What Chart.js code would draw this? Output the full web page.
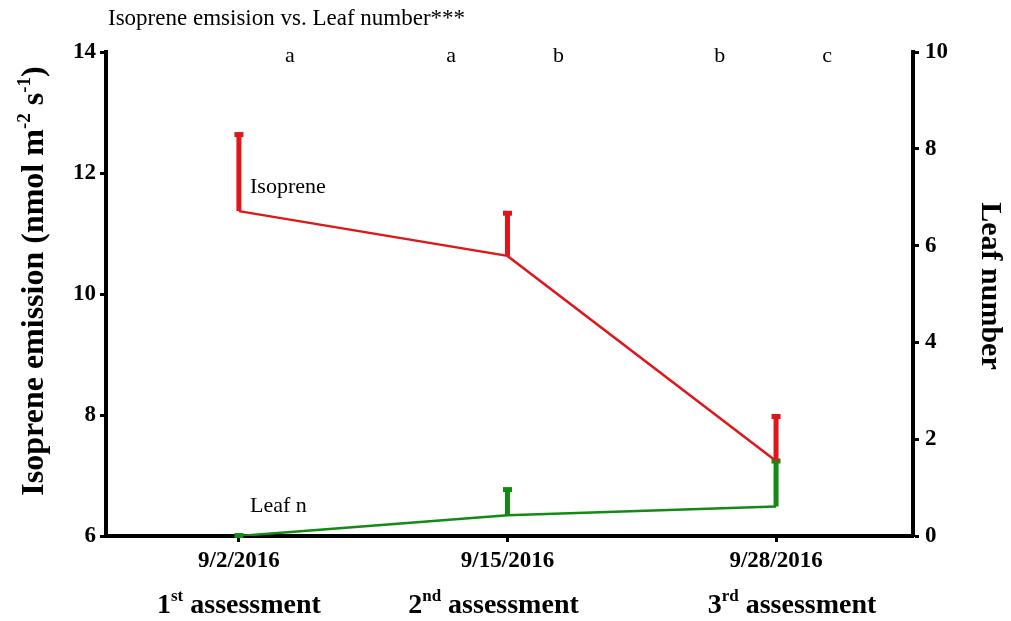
<!DOCTYPE html>
<html>
<head>
<meta charset="utf-8">
<script src="https://cdn.jsdelivr.net/npm/chart.js@4"></script>
<style>
  html, body { margin: 0; padding: 0; background: #fff; }
  #wrap { width: 1011px; height: 621px; position: relative; }
</style>
</head>
<body>
<div id="wrap"><canvas id="c"></canvas></div>
<script>
// Sampling dates and assessment names
const dates = ['9/2/2016', '9/15/2016', '9/28/2016'];
const assessments = [['1', 'st'], ['2', 'nd'], ['3', 'rd']];

// Isoprene emission (nmol m-2 s-1): mean and upper standard error
const isopreneMean = [11.37, 10.63, 7.24];
const isopreneSE = [1.29, 0.73, 0.76];

// Leaf number: mean and upper standard error
const leafMean = [0.0, 0.43, 0.61];
const leafSE = [0.04, 0.56, 0.97];

// Axis ticks
const leftTicks = [6, 8, 10, 12, 14];
const rightTicks = [0, 2, 4, 6, 8, 10];

// Significance letters shown along the top
const sigLetters = ['a', 'a', 'b', 'b', 'c'];

const RED = '#e0161b';
const GREEN = '#148a14';
const SERIF = '"Liberation Serif", "Times New Roman", serif';

const tickGrid = {
  display: true, drawOnChartArea: false, drawTicks: true,
  tickLength: 6, tickWidth: 3, color: '#000'
};
const axisBorder = { display: true, width: 4, color: '#000' };
const tickFont = { family: SERIF, size: 23, weight: 'bold' };

// Draws text pieces in sequence; superscript pieces are smaller and raised
function richWidth(ctx, parts) {
  let w = 0;
  for (const p of parts) { ctx.font = p.font; w += ctx.measureText(p.t).width; }
  return w;
}
function drawRich(ctx, parts, x, y) {
  let cx = x;
  for (const p of parts) {
    ctx.font = p.font;
    ctx.fillText(p.t, cx, y - (p.rise || 0));
    cx += ctx.measureText(p.t).width;
  }
}

function errorBar(ctx, x, yMean, yTop, color) {
  ctx.fillStyle = color;
  ctx.fillRect(x - 2.5, yTop, 5, yMean - yTop);
  ctx.fillRect(x - 4.5, yTop - 1, 9, 5);
}

const annotations = {
  id: 'annotations',
  afterDatasetsDraw(chart) {
    const ctx = chart.ctx;
    const xs = chart.scales.x, yl = chart.scales.yL, yr = chart.scales.yR;
    ctx.save();

    // error bars: leaf first so isoprene sits on top
    leafMean.forEach((m, i) => {
      errorBar(ctx, xs.getPixelForValue(i), yr.getPixelForValue(m), yr.getPixelForValue(m + leafSE[i]), GREEN);
    });
    isopreneMean.forEach((m, i) => {
      errorBar(ctx, xs.getPixelForValue(i), yl.getPixelForValue(m), yl.getPixelForValue(m + isopreneSE[i]), RED);
    });

    ctx.fillStyle = '#000';
    ctx.textBaseline = 'alphabetic';

    // title
    ctx.font = '23px ' + SERIF;
    ctx.textAlign = 'left';
    ctx.fillText('Isoprene emsision vs. Leaf number***', 108, 25);

    // significance letters between sampling dates
    ctx.font = '22px ' + SERIF;
    ctx.textAlign = 'center';
    sigLetters.forEach((s, k) => {
      const pos = k % 2 === 0 ? Math.floor(k / 2) + 0.19 : Math.ceil(k / 2) - 0.21;
      ctx.fillText(s, xs.getPixelForValue(pos), 62);
    });

    // series labels
    ctx.textAlign = 'left';
    ctx.fillText('Isoprene', 250, 193);
    ctx.fillText('Leaf n', 250, 512);

    // left axis title with superscripts
    const B = 'bold 32px ' + SERIF, BS = 'bold 19px ' + SERIF;
    const leftTitle = [
      { t: 'Isoprene emission (nmol m', font: B },
      { t: '-2', font: BS, rise: 13 },
      { t: ' s', font: B },
      { t: '-1', font: BS, rise: 13 },
      { t: ')', font: B }
    ];
    ctx.save();
    ctx.translate(43, 281);
    ctx.rotate(-Math.PI / 2);
    ctx.textAlign = 'left';
    drawRich(ctx, leftTitle, -richWidth(ctx, leftTitle) / 2, 0);
    ctx.restore();

    // right axis title
    ctx.save();
    ctx.translate(982, 286);
    ctx.rotate(Math.PI / 2);
    ctx.font = 'bold 30px ' + SERIF;
    ctx.textAlign = 'center';
    ctx.fillText('Leaf number', 0, 0);
    ctx.restore();

    // assessment labels under the dates
    const shift = [0, -14, 16];
    ctx.textAlign = 'left';
    assessments.forEach((a, i) => {
      const parts = [
        { t: a[0], font: 'bold 28px ' + SERIF },
        { t: a[1], font: 'bold 17px ' + SERIF, rise: 12 },
        { t: ' assessment', font: 'bold 28px ' + SERIF }
      ];
      const w = richWidth(ctx, parts);
      drawRich(ctx, parts, xs.getPixelForValue(i) + shift[i] - w / 2, 613);
    });

    ctx.restore();
  }
};

new Chart(document.getElementById('c'), {
  type: 'line',
  data: {
    datasets: [
      {
        label: 'Isoprene',
        data: isopreneMean.map((v, i) => ({ x: i, y: v })),
        borderColor: RED, borderWidth: 2.5, pointRadius: 0,
        yAxisID: 'yL', tension: 0
      },
      {
        label: 'Leaf n',
        data: leafMean.map((v, i) => ({ x: i, y: v })),
        borderColor: GREEN, borderWidth: 2.5, pointRadius: 0,
        yAxisID: 'yR', tension: 0
      }
    ]
  },
  options: {
    responsive: true, maintainAspectRatio: false, animation: false,
    layout: { padding: { top: 52, left: 0, right: 0, bottom: 0 } },
    plugins: { legend: { display: false }, tooltip: { enabled: false }, title: { display: false } },
    scales: {
      x: {
        type: 'linear', position: 'bottom', min: -0.495, max: 2.51,
        afterBuildTicks: s => { s.ticks = dates.map((_, i) => ({ value: i })); },
        afterFit: s => { s.height = 85; },
        ticks: { callback: v => dates[v], font: tickFont, color: '#000', padding: 5, maxRotation: 0 },
        grid: tickGrid, border: axisBorder
      },
      yL: {
        type: 'linear', position: 'left', min: 6, max: 14,
        afterBuildTicks: s => { s.ticks = leftTicks.map(v => ({ value: v })); },
        afterFit: s => { s.width = 106; },
        ticks: { font: tickFont, color: '#000', padding: 4 },
        grid: tickGrid, border: axisBorder
      },
      yR: {
        type: 'linear', position: 'right', min: 0, max: 10,
        afterBuildTicks: s => { s.ticks = rightTicks.map(v => ({ value: v })); },
        afterFit: s => { s.width = 98; },
        ticks: { font: tickFont, color: '#000', padding: 6 },
        grid: tickGrid, border: axisBorder
      }
    }
  },
  plugins: [annotations]
});
</script>
</body>
</html>
